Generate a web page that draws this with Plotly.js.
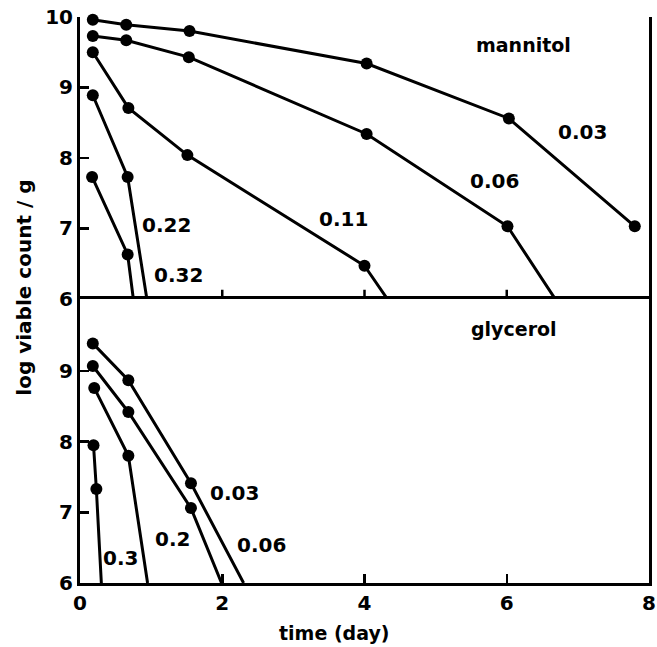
<!DOCTYPE html>
<html>
<head>
<meta charset="utf-8">
<script src="https://cdn.plot.ly/plotly-3.0.1.min.js"></script>
<style>html,body{margin:0;padding:0;background:#fff;}#chart{width:657px;height:647px;}</style>
</head>
<body>
<div id="chart"></div>
<script>
// mannitol (top panel)
const mannitolLabels = ["0.03", "0.06", "0.11", "0.22", "0.32"];
const m003x = [0.18, 0.65, 1.54, 4.03, 6.03, 7.8];
const m003y = [9.96, 9.89, 9.80, 9.34, 8.56, 7.03];
const m006x = [0.18, 0.65, 1.53, 4.03, 6.01, 6.68];
const m006y = [9.73, 9.67, 9.43, 8.34, 7.03, 6.0];
const m011x = [0.18, 0.68, 1.51, 4.0, 4.32];
const m011y = [9.50, 8.71, 8.04, 6.47, 6.0];
const m022x = [0.18, 0.67, 0.94];
const m022y = [8.89, 7.73, 6.0];
const m032x = [0.17, 0.67, 0.75];
const m032y = [7.73, 6.63, 6.0];
// number of measured points (last point of some lines is the axis crossing)
const mMarkers = [6, 5, 4, 2, 2];

// glycerol (bottom panel)
const glycerolLabels = ["0.03", "0.06", "0.2", "0.3"];
const g003x = [0.18, 0.68, 1.56, 2.3];
const g003y = [9.39, 8.87, 7.41, 6.0];
const g006x = [0.18, 0.68, 1.56, 1.99];
const g006y = [9.07, 8.42, 7.06, 6.0];
const g02x = [0.2, 0.68, 0.95];
const g02y = [8.76, 7.80, 6.0];
const g03x = [0.19, 0.23, 0.3];
const g03y = [7.95, 7.33, 6.0];
const gMarkers = [3, 3, 2, 2];

const xTicks = [0, 2, 4, 6, 8];
const topTicks = [6, 7, 8, 9, 10];
const bottomTicks = [6, 7, 8, 9];

const FONT = "DejaVu Sans, sans-serif";
const traces = [];
function add(xs, ys, nm, yaxis) {
  traces.push({x: xs, y: ys, yaxis: yaxis, mode: 'lines', type: 'scatter',
    line: {color: '#000', width: 3}, showlegend: false, hoverinfo: 'skip'});
  traces.push({x: xs.slice(0, nm), y: ys.slice(0, nm), yaxis: yaxis, mode: 'markers', type: 'scatter',
    marker: {color: '#000', size: 12}, showlegend: false, cliponaxis: false});
}
const mX = [m003x, m006x, m011x, m022x, m032x];
const mY = [m003y, m006y, m011y, m022y, m032y];
mX.forEach((xs, i) => add(xs, mY[i], mMarkers[i], 'y'));
const gX = [g003x, g006x, g02x, g03x];
const gY = [g003y, g006y, g02y, g03y];
gX.forEach((xs, i) => add(xs, gY[i], gMarkers[i], 'y2'));

function ann(text, x, y, yref, size) {
  return {text: text, x: x, y: y, xref: 'x', yref: yref, showarrow: false,
    font: {family: FONT, size: size || 20, color: '#000', weight: 700}};
}
const mPos = [[7.07, 8.37], [5.83, 7.67], [3.71, 7.13], [1.22, 7.05], [1.39, 6.34]];
const gPos = [[2.17, 7.28], [2.55, 6.54], [1.3, 6.62], [0.57, 6.35]];
const annotations = [
  ann('mannitol', 6.24, 9.6, 'y', 19),
  ann('glycerol', 6.1, 9.6, 'y2', 19)
].concat(mannitolLabels.map((t, i) => ann(t, mPos[i][0], mPos[i][1], 'y')))
 .concat(glycerolLabels.map((t, i) => ann(t, gPos[i][0], gPos[i][1], 'y2')));

const axisCommon = {showgrid: false, zeroline: false, showline: true, linecolor: '#000', linewidth: 3,
  mirror: true, ticks: 'inside', ticklen: 9, tickwidth: 2.5, tickcolor: '#000',
  tickfont: {family: FONT, size: 20, color: '#000', weight: 700}};

const layout = {
  width: 657, height: 647,
  margin: {l: 80, r: 8, t: 17, b: 64},
  paper_bgcolor: '#fff', plot_bgcolor: '#fff',
  showlegend: false,
  xaxis: Object.assign({}, axisCommon, {range: [0, 8], tickvals: xTicks, ticktext: xTicks.map(String),
    anchor: 'y2', ticklabeloverflow: 'allow'}),
  yaxis: Object.assign({}, axisCommon, {domain: [0.502, 1], range: [6, 10], tickvals: topTicks,
    ticktext: topTicks.map(String), ticklabeloverflow: 'allow'}),
  yaxis2: Object.assign({}, axisCommon, {domain: [0, 0.502], range: [6, 10.02], tickvals: bottomTicks,
    ticktext: bottomTicks.map(String)}),
  annotations: annotations.concat([
    {text: 'log viable count / g', xref: 'paper', yref: 'paper', x: -0.1, xanchor: 'center',
     y: 0.522, textangle: -90, showarrow: false,
     font: {family: FONT, size: 20, color: '#000', weight: 700}},
    {text: 'time (day)', xref: 'paper', yref: 'paper', x: 0.447, xanchor: 'center',
     y: -0.088, yanchor: 'middle', showarrow: false,
     font: {family: FONT, size: 19, color: '#000', weight: 700}}
  ]),
  shapes: [2, 4, 6].map(v => ({type: 'line', xref: 'x', yref: 'y', x0: v, x1: v, y0: 6, y1: 6.13,
    line: {color: '#000', width: 2.5}}))
};

Plotly.newPlot('chart', traces, layout, {staticPlot: true});
</script>
</body>
</html>
